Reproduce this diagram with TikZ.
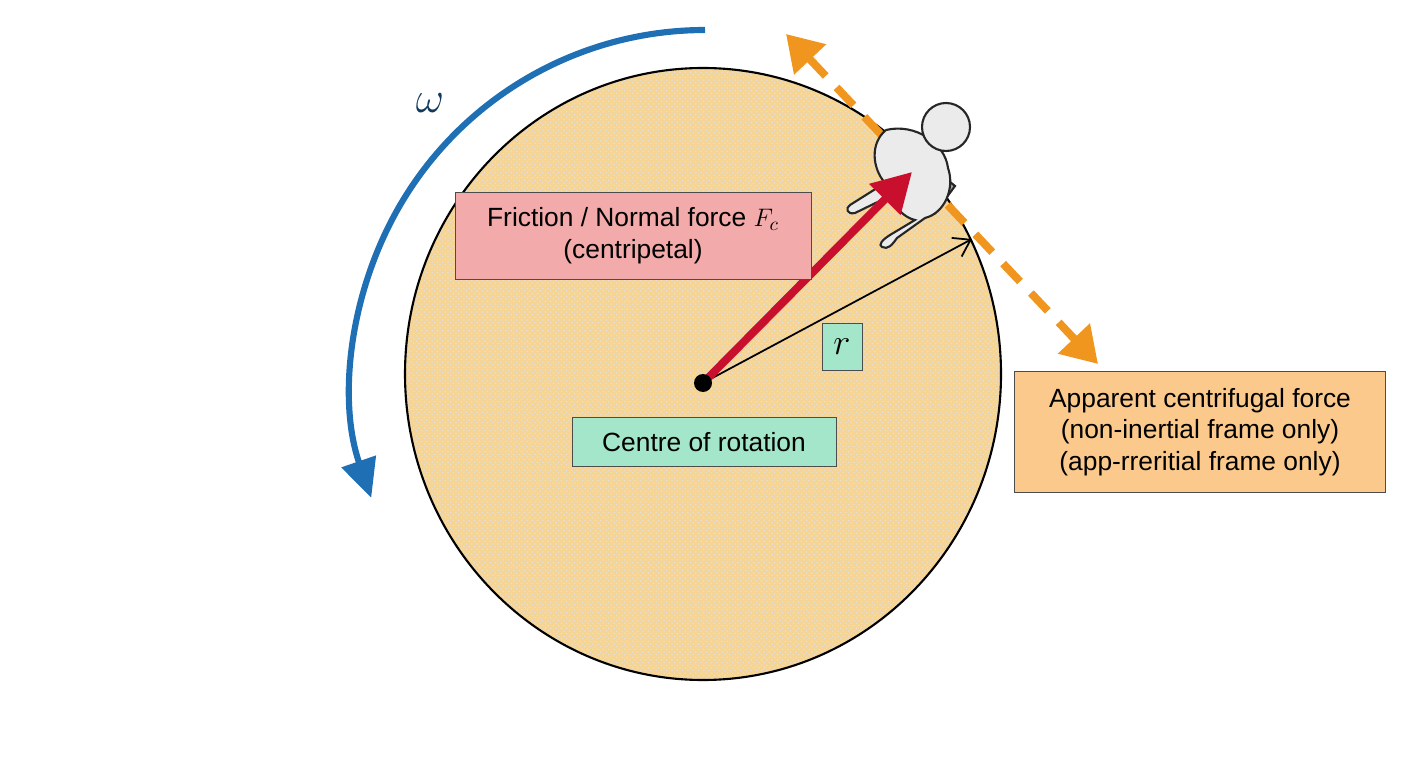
\documentclass[tikz,border=0pt]{standalone}
\usepackage{fontspec}
\setmainfont{Liberation Sans}
\usetikzlibrary{arrows.meta,patterns}
\definecolor{disk}{HTML}{F6D493}
\definecolor{redbox}{HTML}{F2AAAA}
\definecolor{greenbox}{HTML}{A3E6CA}
\definecolor{orangebox}{HTML}{FBC98C}
\definecolor{oarrow}{HTML}{F0961E}
\definecolor{barrow}{HTML}{1F6FB5}
\definecolor{rarrow}{HTML}{C8102E}
\definecolor{omega}{HTML}{12385A}
\begin{document}
\begin{tikzpicture}[x=0.02cm,y=0.02cm,
  lbl/.style={draw=black!70,line width=0.5pt,font=\fontsize{15}{18}\selectfont,align=center,inner sep=2pt},
  person/.style={draw=black!85,line width=1.2pt,fill=black!8}]
\useasboundingbox (0,0) rectangle (1408,768);
% disk
\fill[disk] (703,394) ellipse [x radius=298,y radius=306];
\fill[pattern=crosshatch dots,pattern color=black!12] (703,394) ellipse [x radius=298,y radius=306];
\draw[line width=1.2pt] (703,394) ellipse [x radius=298,y radius=306];
% omega arrow
\draw[barrow,line width=3.5pt,-{Triangle[length=22pt,width=20pt]}] (705,738) arc[start angle=90,end angle=199,radius=353];
\node[omega,font=\fontsize{24}{28}\selectfont] (om) at (430,665) {$\omega$};
% centre
\coordinate (c) at (703,385);
\coordinate (rend) at (972,529);
\coordinate (fend) at (912,596);
\draw[line width=1pt,-{Straight Barb[length=9pt,width=12pt]}] (c) -- (rend);
% orange dashed
\coordinate (o1) at (786,734);
\coordinate (o2) at (1098,404);
\draw[oarrow,line width=4.5pt,dash pattern=on 14pt off 9pt,{Triangle[length=20pt,width=24pt]}-{Triangle[length=20pt,width=24pt]}] (o1) -- (o2);
% person
\draw[person,fill=black!35] (880,600) -- (900,628) -- (912,620) -- (895,592) -- cycle;
\draw[person,fill=black!35] (925,565) -- (945,590) -- (955,582) -- (935,555) -- cycle;
\draw[person] (886,638) .. controls (870,625) and (872,600) .. (885,585) -- (850,563) .. controls (845,560) and (847,553) .. (855,555) -- (890,572) .. controls (895,560) and (905,550) .. (915,548) -- (890,533) .. controls (882,528) and (878,523) .. (882,521) .. controls (888,518) and (892,523) .. (897,530) -- (925,550) .. controls (945,555) and (955,580) .. (948,600) .. controls (945,625) and (915,645) .. (886,638);
\node[person,circle,minimum size=0.96cm,inner sep=0pt] (head) at (946,641) {};
% red arrow
\draw[rarrow,line width=4.5pt,-{Triangle[length=22pt,width=24pt]}] (c) -- (fend);
\fill (c) circle (9);
\node[circle,inner sep=0pt,minimum size=0.36cm] (dot) at (c) {};
% boxes
\node[lbl,fill=redbox,minimum width=7.12cm,minimum height=1.74cm] (fr) at (633,532) {Friction / Normal force $F_c$\\(centripetal)};
\node[lbl,fill=greenbox,minimum width=0.8cm,minimum height=0.94cm,font=\fontsize{20}{22}\selectfont] (r) at (842,421) {$r$};
\node[lbl,fill=greenbox,minimum width=5.28cm,minimum height=0.98cm] (cr) at (704,326) {Centre of rotation};
\node[lbl,fill=orangebox,minimum width=7.42cm,minimum height=2.42cm] (ap) at (1200,336) {Apparent centrifugal force\\(non-inertial frame only)\\(app-rreritial frame only)};
\end{tikzpicture}
\end{document}
